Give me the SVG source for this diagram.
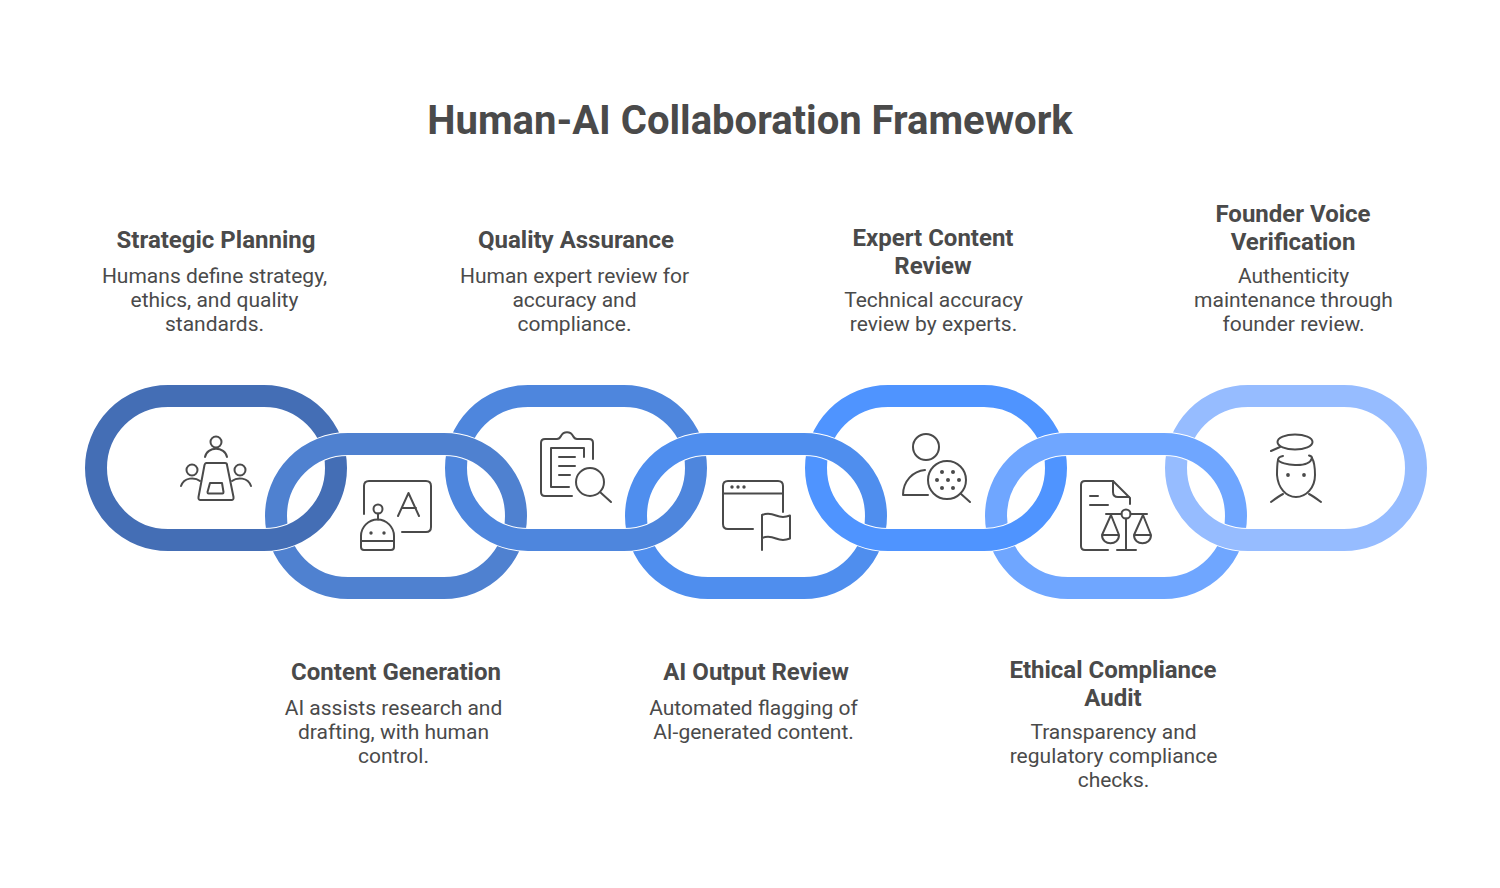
<svg xmlns="http://www.w3.org/2000/svg" width="1500" height="888" viewBox="0 0 1500 888">
<style>
text{font-family:Roboto,"Liberation Sans",sans-serif;fill:#4a4a4a;text-anchor:middle}
.title{font-size:40px;font-weight:700}
.head{font-size:24px;font-weight:700}
.body{font-size:21px;font-weight:400}
.ring{fill:none;stroke-width:22}
.halo{fill:none;stroke:#fff;stroke-width:24}
.icon{fill:none;stroke:#4a4a4a;stroke-width:2;stroke-linecap:round;stroke-linejoin:round}
.dot{fill:#4a4a4a;stroke:none}
</style>
<defs>
<rect id="pill" x="11" y="11" width="240" height="144" rx="72" ry="72"/>
<clipPath id="lower"><rect x="0" y="490" width="1500" height="80"/></clipPath>
</defs>
<rect width="1500" height="888" fill="#fff"/>
<text class="title" x="750" y="134">Human-AI Collaboration Framework</text>
<g id="connectors">
<use href="#pill" x="85" y="385" class="ring" stroke="#446EB5"/>
<use href="#pill" x="445" y="385" class="ring" stroke="#4E86DD"/>
<use href="#pill" x="805" y="385" class="ring" stroke="#4F94FF"/>
<use href="#pill" x="1165" y="385" class="ring" stroke="#96BCFF"/>
<use href="#pill" x="265" y="433" class="halo"/><use href="#pill" x="265" y="433" class="ring" stroke="#4F81D0"/>
<use href="#pill" x="625" y="433" class="halo"/><use href="#pill" x="625" y="433" class="ring" stroke="#4F8EEE"/>
<use href="#pill" x="985" y="433" class="halo"/><use href="#pill" x="985" y="433" class="ring" stroke="#6FA6FF"/>
<g clip-path="url(#lower)">
<use href="#pill" x="85" y="385" class="halo"/><use href="#pill" x="85" y="385" class="ring" stroke="#446EB5"/>
<use href="#pill" x="445" y="385" class="halo"/><use href="#pill" x="445" y="385" class="ring" stroke="#4E86DD"/>
<use href="#pill" x="805" y="385" class="halo"/><use href="#pill" x="805" y="385" class="ring" stroke="#4F94FF"/>
<use href="#pill" x="1165" y="385" class="halo"/><use href="#pill" x="1165" y="385" class="ring" stroke="#96BCFF"/>
</g>
</g>
<g id="node-strategic-planning">
<text class="head" x="216" y="248">Strategic Planning</text>
<text class="body" x="214.500" y="283">Humans define strategy,</text>
<text class="body" x="214.500" y="307">ethics, and quality</text>
<text class="body" x="214.500" y="331">standards.</text>
<g class="icon">
<circle cx="216" cy="442" r="5.500"/><path d="M205 457c2-11 20-11 22 0"/>
<path d="M206 463h19c1 0 2 .5 2 2l6.500 32c.3 2-.5 3-2 3h-31c-1.500 0-2.300-1-2-3l6-32c.3-1.500 1-2 2-2z"/>
<path d="M210 483h12l1.500 9c0 1-.5 1.500-1 1.500h-14c-.5 0-1-.5-1-1.500z"/>
<circle cx="192" cy="470" r="5.500"/><path d="M181 486c3-9 14-9 19-5"/>
<circle cx="240" cy="470" r="5.500"/><path d="M232 481c5-4 16-4 19 5"/>
</g>
</g>
<g id="node-content-generation">
<text class="head" x="396" y="680">Content Generation</text>
<text class="body" x="393.500" y="715">AI assists research and</text>
<text class="body" x="393.500" y="739">drafting, with human</text>
<text class="body" x="393.500" y="763">control.</text>
<g class="icon">
<path d="M364 514v-28c0-3 2-5 5-5h57c3 0 5 2 5 5v41c0 3-2 5-5 5h-24"/>
<path d="M398 516l10.500-23 10.500 23M402 508h14"/>
<circle cx="378" cy="509" r="4.500"/><path d="M378 513.500v6"/>
<path d="M361 541v-5c0-9 7.500-16.500 16.500-16.500s16.500 7.500 16.500 16.500v11c0 2-1 3-3 3h-27c-2 0-3-1-3-3zM361 541h33"/>
<circle class="dot" cx="371" cy="533" r="1.700"/><circle class="dot" cx="384" cy="533" r="1.700"/>
</g>
</g>
<g id="node-quality-assurance">
<text class="head" x="576" y="248">Quality Assurance</text>
<text class="body" x="574.500" y="283">Human expert review for</text>
<text class="body" x="574.500" y="307">accuracy and</text>
<text class="body" x="574.500" y="331">compliance.</text>
<g class="icon">
<path d="M572 496h-27c-2.500 0-4-1.500-4-4v-49c0-2.500 1.500-4 4-4h12c2 0 3-1 4-3 2.500-5 9.500-5 12 0 1 2 2 3 4 3h12c2.500 0 4 1.500 4 4v16"/>
<path d="M584 457v-9h-33v39h18M559 457h16M559 466h16M559 475h11"/>
<circle cx="590" cy="482" r="14"/><path d="M600.500 492.500L611 502"/>
</g>
</g>
<g id="node-ai-output-review">
<text class="head" x="756" y="680">AI Output Review</text>
<text class="body" x="753.500" y="715">Automated flagging of</text>
<text class="body" x="753.500" y="739">AI-generated content.</text>
<g class="icon">
<path d="M753 529h-25c-3 0-5-2-5-5v-38c0-3 2-5 5-5h50c3 0 5 2 5 5v26M723 493.500h60"/>
<circle class="dot" cx="732" cy="487" r="1.700"/><circle class="dot" cx="738" cy="487" r="1.700"/><circle class="dot" cx="744" cy="487" r="1.700"/>
<path d="M762 550v-35c5-2 9-1.500 14 .5s9 2 14 0v23c-5 2-9 2-14 0s-9-2.500-14-.5"/>
</g>
</g>
<g id="node-expert-content-review">
<text class="head" x="933" y="246">Expert Content</text>
<text class="head" x="933" y="274">Review</text>
<text class="body" x="933.500" y="307">Technical accuracy</text>
<text class="body" x="933.500" y="331">review by experts.</text>
<g class="icon">
<circle cx="926" cy="447" r="13"/>
<path d="M925 470c-12 1-22 11-22 25h25"/>
<circle cx="947" cy="480" r="19"/><path d="M960.500 493.500L970 502"/>
<g class="dot"><circle cx="942" cy="472" r="2"/><circle cx="953" cy="472" r="2"/><circle cx="937" cy="480" r="2"/><circle cx="948" cy="480" r="2"/><circle cx="959" cy="480" r="2"/><circle cx="942" cy="488" r="2"/><circle cx="953" cy="488" r="2"/></g>
</g>
</g>
<g id="node-ethical-compliance-audit">
<text class="head" x="1113" y="678">Ethical Compliance</text>
<text class="head" x="1113" y="706">Audit</text>
<text class="body" x="1113.500" y="739">Transparency and</text>
<text class="body" x="1113.500" y="763">regulatory compliance</text>
<text class="body" x="1113.500" y="787">checks.</text>
<g class="icon">
<path d="M1108 550h-23c-2.500 0-4-1.500-4-4v-61c0-2.500 1.500-4 4-4h28l17 17v6"/>
<path d="M1113 481v11c0 3 2 5 5 5h11M1090 496h8M1090 505h18"/>
<circle cx="1126" cy="514" r="4.500"/><path d="M1106 514h15.500M1130.500 514h16.500M1126 518.500V550M1117 550h19"/>
<path d="M1111 515l-9 20c0 11 17 11 17 0zM1102 535h17"/>
<path d="M1143 515l-9 20c0 11 17 11 17 0zM1134 535h17"/>
</g>
</g>
<g id="node-founder-voice-verification">
<text class="head" x="1293" y="222">Founder Voice</text>
<text class="head" x="1293" y="250">Verification</text>
<text class="body" x="1293.500" y="283">Authenticity</text>
<text class="body" x="1293.500" y="307">maintenance through</text>
<text class="body" x="1293.500" y="331">founder review.</text>
<g class="icon">
<ellipse cx="1295" cy="442" rx="17.500" ry="7.500"/><path d="M1271 451l9-4"/>
<path d="M1283 456c-3 .5-5 2-5 4 3 5 31 9 34-2 0-1-1-2-3-2.500"/>
<path d="M1278 460c-1 5-1 11-1 15 1 13 9 22 19 22s19-9 19-22c0-6 0-12-3-17"/>
<circle class="dot" cx="1288" cy="475" r="1.900"/><circle class="dot" cx="1304" cy="475" r="1.900"/>
<path d="M1271 502c4-3 8-6 12-8M1321 502c-4-3-8-6-12-8"/>
</g>
</g>
</svg>
